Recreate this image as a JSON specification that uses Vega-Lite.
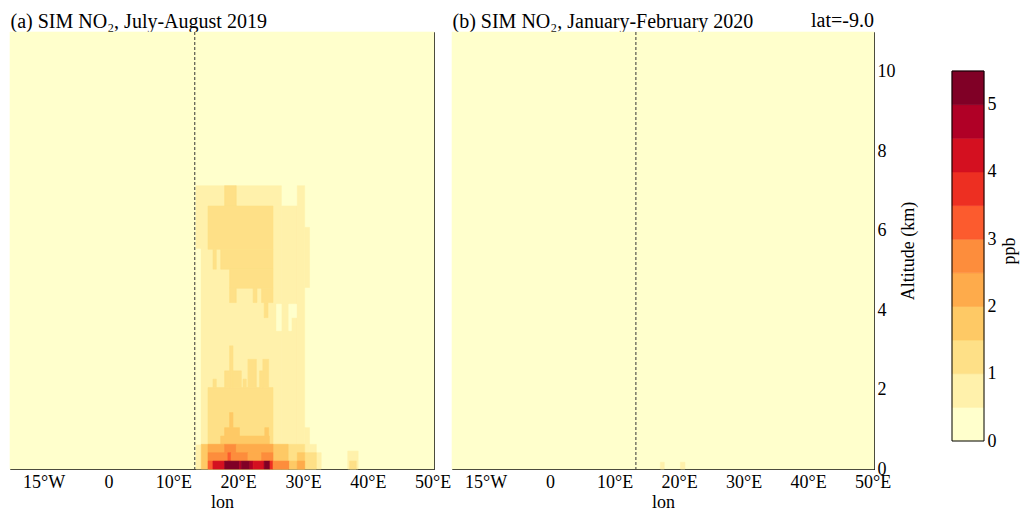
{
  "$schema": "https://vega.github.io/schema/vega-lite/v6.json",
  "padding": {"left": 9, "top": 10, "right": 5, "bottom": 2},
  "bounds": "flush",
  "spacing": 18,
  "config": {
    "font": "Liberation Serif",
    "view": {"stroke": "black", "strokeWidth": 1},
    "axis": {
      "labelFont": "Liberation Serif", "titleFont": "Liberation Serif",
      "labelFontSize": 18, "titleFontSize": 18, "titleFontWeight": "normal",
      "labelColor": "black", "titleColor": "black", "tickColor": "black",
      "grid": false, "domain": false, "labelFlush": false, "labelOverlap": false
    }
  },
  "datasets": {
    "a": [
      {"lon0": -15.2, "lon1": 50.2, "alt0": 0, "alt1": 11, "v": 0.25},
      {"lon0": 13.5, "lon1": 26.65, "alt0": 0, "alt1": 7.13, "v": 0.75},
      {"lon0": 26.65, "lon1": 29.12, "alt0": 0, "alt1": 6.62, "v": 0.75},
      {"lon0": 29.12, "lon1": 30.25, "alt0": 0, "alt1": 7.13, "v": 0.75},
      {"lon0": 30.25, "lon1": 31.0, "alt0": 4.57, "alt1": 6.08, "v": 0.75},
      {"lon0": 30.25, "lon1": 31.0, "alt0": 0, "alt1": 1.04, "v": 0.75},
      {"lon0": 31.0, "lon1": 32.05, "alt0": 0, "alt1": 0.62, "v": 0.75},
      {"lon0": 32.05, "lon1": 32.8, "alt0": 0, "alt1": 0.41, "v": 0.75},
      {"lon0": 36.9, "lon1": 38.5, "alt0": 0, "alt1": 0.45, "v": 0.75},
      {"lon0": 13.5, "lon1": 14.2, "alt0": 0.62, "alt1": 5.54, "v": 0.25},
      {"lon0": 25.9, "lon1": 26.65, "alt0": 3.48, "alt1": 4.15, "v": 0.25},
      {"lon0": 27.8, "lon1": 28.2, "alt0": 3.48, "alt1": 4.15, "v": 0.25},
      {"lon0": 28.2, "lon1": 29.0, "alt0": 3.81, "alt1": 4.15, "v": 0.25},
      {"lon0": 17.9, "lon1": 19.7, "alt0": 6.62, "alt1": 7.13, "v": 1.25},
      {"lon0": 15.34, "lon1": 25.37, "alt0": 5.53, "alt1": 6.62, "v": 1.25},
      {"lon0": 16.11, "lon1": 16.62, "alt0": 5.03, "alt1": 5.53, "v": 1.25},
      {"lon0": 17.3, "lon1": 25.37, "alt0": 5.03, "alt1": 5.53, "v": 1.25},
      {"lon0": 18.67, "lon1": 25.37, "alt0": 4.55, "alt1": 5.03, "v": 1.25},
      {"lon0": 18.67, "lon1": 19.7, "alt0": 4.19, "alt1": 4.55, "v": 1.25},
      {"lon0": 22.3, "lon1": 22.9, "alt0": 4.19, "alt1": 4.55, "v": 1.25},
      {"lon0": 23.6, "lon1": 25.37, "alt0": 4.19, "alt1": 4.55, "v": 1.25},
      {"lon0": 24.0, "lon1": 24.6, "alt0": 3.81, "alt1": 4.19, "v": 1.25},
      {"lon0": 15.34, "lon1": 25.37, "alt0": 0, "alt1": 2.05, "v": 1.25},
      {"lon0": 16.11, "lon1": 16.62, "alt0": 2.05, "alt1": 2.26, "v": 1.25},
      {"lon0": 17.9, "lon1": 18.67, "alt0": 2.05, "alt1": 2.47, "v": 1.25},
      {"lon0": 18.67, "lon1": 19.2, "alt0": 2.05, "alt1": 3.1, "v": 1.25},
      {"lon0": 19.2, "lon1": 20.48, "alt0": 2.05, "alt1": 2.47, "v": 1.25},
      {"lon0": 20.74, "lon1": 21.25, "alt0": 2.05, "alt1": 2.26, "v": 1.25},
      {"lon0": 21.5, "lon1": 22.8, "alt0": 2.05, "alt1": 2.76, "v": 1.25},
      {"lon0": 23.3, "lon1": 23.8, "alt0": 2.05, "alt1": 2.47, "v": 1.25},
      {"lon0": 23.8, "lon1": 24.7, "alt0": 2.05, "alt1": 2.76, "v": 1.25},
      {"lon0": 25.37, "lon1": 30.25, "alt0": 0, "alt1": 0.62, "v": 1.25},
      {"lon0": 30.25, "lon1": 32.05, "alt0": 0, "alt1": 0.41, "v": 1.25},
      {"lon0": 37.2, "lon1": 38.2, "alt0": 0, "alt1": 0.2, "v": 1.25},
      {"lon0": 18.67, "lon1": 19.2, "alt0": 1.04, "alt1": 1.42, "v": 1.75},
      {"lon0": 17.9, "lon1": 20.2, "alt0": 0.83, "alt1": 1.04, "v": 1.75},
      {"lon0": 24.1, "lon1": 24.7, "alt0": 0.83, "alt1": 1.04, "v": 1.75},
      {"lon0": 17.3, "lon1": 24.8, "alt0": 0.62, "alt1": 0.83, "v": 1.75},
      {"lon0": 14.3, "lon1": 25.37, "alt0": 0, "alt1": 0.62, "v": 1.75},
      {"lon0": 25.37, "lon1": 27.7, "alt0": 0, "alt1": 0.62, "v": 1.75},
      {"lon0": 29.12, "lon1": 30.25, "alt0": 0, "alt1": 0.41, "v": 1.75},
      {"lon0": 15.34, "lon1": 17.9, "alt0": 0.41, "alt1": 0.62, "v": 2.25},
      {"lon0": 17.9, "lon1": 19.7, "alt0": 0.41, "alt1": 0.62, "v": 2.75},
      {"lon0": 19.7, "lon1": 25.37, "alt0": 0.41, "alt1": 0.62, "v": 2.25},
      {"lon0": 15.34, "lon1": 18.4, "alt0": 0.2, "alt1": 0.41, "v": 2.75},
      {"lon0": 18.4, "lon1": 18.9, "alt0": 0.2, "alt1": 0.41, "v": 3.25},
      {"lon0": 18.9, "lon1": 21.5, "alt0": 0.2, "alt1": 0.41, "v": 2.75},
      {"lon0": 21.5, "lon1": 23.6, "alt0": 0.2, "alt1": 0.41, "v": 2.25},
      {"lon0": 23.6, "lon1": 25.37, "alt0": 0.2, "alt1": 0.41, "v": 2.75},
      {"lon0": 15.34, "lon1": 16.1, "alt0": 0, "alt1": 0.2, "v": 3.25},
      {"lon0": 16.1, "lon1": 17.9, "alt0": 0, "alt1": 0.2, "v": 4.25},
      {"lon0": 17.9, "lon1": 20.2, "alt0": 0, "alt1": 0.2, "v": 5.25},
      {"lon0": 20.2, "lon1": 20.5, "alt0": 0, "alt1": 0.2, "v": 4.75},
      {"lon0": 20.5, "lon1": 21.8, "alt0": 0, "alt1": 0.2, "v": 5.25},
      {"lon0": 21.8, "lon1": 22.3, "alt0": 0, "alt1": 0.2, "v": 4.75},
      {"lon0": 22.3, "lon1": 24.0, "alt0": 0, "alt1": 0.2, "v": 4.25},
      {"lon0": 24.0, "lon1": 24.9, "alt0": 0, "alt1": 0.2, "v": 5.25},
      {"lon0": 24.9, "lon1": 25.37, "alt0": 0, "alt1": 0.2, "v": 3.75},
      {"lon0": 25.37, "lon1": 27.9, "alt0": 0, "alt1": 0.2, "v": 2.75},
      {"lon0": 27.9, "lon1": 29.12, "alt0": 0, "alt1": 0.2, "v": 1.75},
      {"lon0": 29.12, "lon1": 30.25, "alt0": 0, "alt1": 0.2, "v": 2.25}
    ],
    "b": [
      {"lon0": -15.2, "lon1": 50.2, "alt0": 0, "alt1": 11, "v": 0.25},
      {"lon0": 17.1, "lon1": 17.7, "alt0": 0, "alt1": 0.17, "v": 0.75},
      {"lon0": 20.2, "lon1": 20.9, "alt0": 0, "alt1": 0.17, "v": 0.75}
    ],
    "cb": [
      {"lo": 0, "hi": 0.5, "v": 0.25},
      {"lo": 0.5, "hi": 1, "v": 0.75},
      {"lo": 1, "hi": 1.5, "v": 1.25},
      {"lo": 1.5, "hi": 2, "v": 1.75},
      {"lo": 2, "hi": 2.5, "v": 2.25},
      {"lo": 2.5, "hi": 3, "v": 2.75},
      {"lo": 3, "hi": 3.5, "v": 3.25},
      {"lo": 3.5, "hi": 4, "v": 3.75},
      {"lo": 4, "hi": 4.5, "v": 4.25},
      {"lo": 4.5, "hi": 5, "v": 4.75},
      {"lo": 5, "hi": 5.5, "v": 5.25}
    ],
    "dash": [{"lon0": 13.3}]
  },
  "hconcat": [
    {
      "width": 424, "height": 437,
      "resolve": {"axis": {"x": "independent"}},
      "layer": [
        {
          "data": {"name": "a"},
          "mark": {"type": "rect", "strokeWidth": 0.6},
          "encoding": {
            "x": {"field": "lon0", "type": "quantitative", "scale": {"domain": [-15.2, 50.2], "nice": false, "zero": false},
              "axis": {"values": [-10, 0, 10, 20, 30, 40, 50], "labelExpr": "datum.value == -10 ? '15°W' : (datum.value == 0 ? '0' : datum.value + '°E')", "tickSize": -5, "labelPadding": 9, "title": "lon", "titlePadding": 2}},
            "x2": {"field": "lon1"},
            "y": {"field": "alt0", "type": "quantitative", "scale": {"domain": [0, 11], "nice": false, "zero": false}, "axis": null},
            "y2": {"field": "alt1"},
            "fill": {"field": "v", "type": "quantitative", "legend": null, "scale": {"type": "threshold", "domain": [0.5, 1, 1.5, 2, 2.5, 3, 3.5, 4, 4.5, 5], "range": ["#ffffcc", "#fff1ab", "#fee087", "#fec965", "#feab4b", "#fd8d3c", "#fc5b2e", "#ed2f22", "#d41020", "#b00026", "#800026"]}},
            "stroke": {"field": "v", "type": "quantitative", "legend": null, "scale": {"type": "threshold", "domain": [0.5, 1, 1.5, 2, 2.5, 3, 3.5, 4, 4.5, 5], "range": ["#ffffcc", "#fff1ab", "#fee087", "#fec965", "#feab4b", "#fd8d3c", "#fc5b2e", "#ed2f22", "#d41020", "#b00026", "#800026"]}}
          }
        },
        {
          "data": {"name": "dash"},
          "mark": {"type": "rule", "strokeDash": [3, 2], "color": "#333333", "strokeWidth": 1},
          "encoding": {"x": {"field": "lon0", "type": "quantitative",
            "axis": {"orient": "top", "labels": false, "ticks": false, "title": "(a) SIM NO₂, July-August 2019", "titleAnchor": "start", "titleAlign": "left", "titleFontSize": 20, "titleBaseline": "alphabetic", "titlePadding": 5}}}
        }
      ]
    },
    {
      "width": 422, "height": 437,
      "resolve": {"axis": {"x": "independent"}},
      "layer": [
        {
          "data": {"name": "b"},
          "mark": {"type": "rect", "strokeWidth": 0.6},
          "encoding": {
            "x": {"field": "lon0", "type": "quantitative", "scale": {"domain": [-15.2, 50.2], "nice": false, "zero": false},
              "axis": {"values": [-10, 0, 10, 20, 30, 40, 50], "labelExpr": "datum.value == -10 ? '15°W' : (datum.value == 0 ? '0' : datum.value + '°E')", "tickSize": -5, "labelPadding": 9, "title": "lon", "titlePadding": 2}},
            "x2": {"field": "lon1"},
            "y": {"field": "alt0", "type": "quantitative", "scale": {"domain": [0, 11], "nice": false, "zero": false},
              "axis": {"orient": "right", "values": [0, 2, 4, 6, 8, 10], "tickSize": -5, "labelPadding": 8, "title": "Altitude (km)", "titleAngle": 270, "titlePadding": 22}},
            "y2": {"field": "alt1"},
            "fill": {"field": "v", "type": "quantitative", "legend": null, "scale": {"type": "threshold", "domain": [0.5, 1, 1.5, 2, 2.5, 3, 3.5, 4, 4.5, 5], "range": ["#ffffcc", "#fff1ab", "#fee087", "#fec965", "#feab4b", "#fd8d3c", "#fc5b2e", "#ed2f22", "#d41020", "#b00026", "#800026"]}},
            "stroke": {"field": "v", "type": "quantitative", "legend": null, "scale": {"type": "threshold", "domain": [0.5, 1, 1.5, 2, 2.5, 3, 3.5, 4, 4.5, 5], "range": ["#ffffcc", "#fff1ab", "#fee087", "#fec965", "#feab4b", "#fd8d3c", "#fc5b2e", "#ed2f22", "#d41020", "#b00026", "#800026"]}}
          }
        },
        {
          "data": {"name": "dash"},
          "mark": {"type": "rule", "strokeDash": [3, 2], "color": "#333333", "strokeWidth": 1},
          "encoding": {"x": {"field": "lon0", "type": "quantitative",
            "axis": {"orient": "top", "labels": false, "ticks": false, "title": "(b) SIM NO₂, January-February 2020", "titleAnchor": "start", "titleAlign": "left", "titleFontSize": 20, "titleBaseline": "alphabetic", "titlePadding": 5}}}
        },
        {
          "data": {"values": [{"label": "lat=-9.0"}]},
          "mark": {"type": "text", "align": "right", "baseline": "alphabetic", "dy": -5, "fontSize": 20, "font": "Liberation Serif", "color": "black"},
          "encoding": {"x": {"datum": 50.2, "axis": null}, "y": {"datum": 11}, "text": {"field": "label"}}
        }
      ]
    },
    {
      "width": 42, "height": 437,
      "view": {"stroke": null},
      "data": {"values": []},
      "mark": "rect"
    },
    {
      "width": 32, "height": 437,
      "view": {"stroke": null},
      "layer": [
        {
          "data": {"name": "cb"},
          "mark": {"type": "rect", "strokeWidth": 0.6},
          "encoding": {
            "y": {"field": "lo", "type": "quantitative", "scale": {"domain": [-0.416, 6.08], "nice": false, "zero": false},
              "axis": {"orient": "right", "values": [0, 1, 2, 3, 4, 5], "format": "d", "ticks": false, "labelPadding": 3, "title": "ppb", "titleAngle": 270, "titlePadding": 22}},
            "y2": {"field": "hi"},
            "fill": {"field": "v", "type": "quantitative", "legend": null, "scale": {"type": "threshold", "domain": [0.5, 1, 1.5, 2, 2.5, 3, 3.5, 4, 4.5, 5], "range": ["#ffffcc", "#fff1ab", "#fee087", "#fec965", "#feab4b", "#fd8d3c", "#fc5b2e", "#ed2f22", "#d41020", "#b00026", "#800026"]}},
            "stroke": {"field": "v", "type": "quantitative", "legend": null, "scale": {"type": "threshold", "domain": [0.5, 1, 1.5, 2, 2.5, 3, 3.5, 4, 4.5, 5], "range": ["#ffffcc", "#fff1ab", "#fee087", "#fec965", "#feab4b", "#fd8d3c", "#fc5b2e", "#ed2f22", "#d41020", "#b00026", "#800026"]}}
          }
        },
        {
          "data": {"values": [{"lo": 0, "hi": 5.5}]},
          "mark": {"type": "rect", "filled": false, "color": "black", "strokeWidth": 1},
          "encoding": {"y": {"field": "lo", "type": "quantitative"}, "y2": {"field": "hi"}}
        }
      ]
    }
  ]
}
